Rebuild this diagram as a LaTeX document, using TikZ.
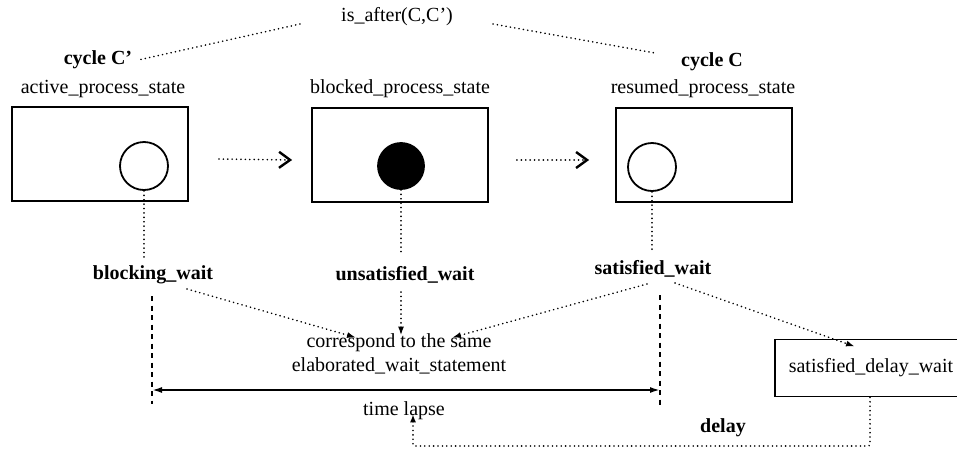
\documentclass[tikz,border=0pt]{standalone}
\usepackage{fontspec}
\setmainfont{Liberation Serif}
\usetikzlibrary{arrows.meta}
\begin{document}
\begin{tikzpicture}[x=1pt,y=-1pt,
  every node/.style={font=\fontsize{20}{23}\selectfont, inner sep=0pt},
  boldlbl/.style={font=\fontsize{20}{23}\selectfont\bfseries},
  statebox/.style={draw, line width=1.8pt, minimum width=176pt, minimum height=94pt},
  ring/.style={circle, draw, line width=1.8pt, minimum size=48pt},
  dotline/.style={line width=1.7pt, line cap=round, dash pattern=on 0.1pt off 4.3pt},
  dashline/.style={line width=1.6pt, dash pattern=on 5pt off 4.5pt},
  flow/.style={dotline, -{Straight Barb[length=11pt,width=16pt,line width=2.4pt]}},
  link/.style={dotline, -{Latex[length=9pt,width=6pt]}},
  span/.style={line width=1.8pt, {Latex[length=10pt,width=6pt]}-{Latex[length=10pt,width=6pt]}}
]
\path[use as bounding box] (0,0) rectangle (957,450);

% cycle relation at the top
\node (isafter) at (397,17) {is\_after(C,C')};
\node[boldlbl] (cycA) at (98,60) {cycle C'};
\node[boldlbl] (cycR) at (712,62) {cycle C};
\coordinate (isL) at (300,24);
\coordinate (isR) at (493,24);
\coordinate (cycRtop) at (655,53);
\draw[dotline] (isL) -- ([xshift=6pt]cycA.east);
\draw[dotline] (isR) -- (cycRtop);

% process states
\node (lblA) at (103,89) {active\_process\_state};
\node (lblB) at (400,89) {blocked\_process\_state};
\node (lblR) at (703,89) {resumed\_process\_state};

\node[statebox] (boxA) at (100,154) {};
\node[statebox] (boxB) at (400,155) {};
\node[statebox] (boxR) at (704,155) {};

\node[ring] (circA) at (144,166) {};
\node[ring, fill=black, minimum size=46pt] (circB) at (401,166) {};
\node[ring] (circR) at (652,167) {};

\draw[flow] ([xshift=30pt,yshift=-5pt]boxA.east) -- ([xshift=-19pt,yshift=-5pt]boxB.west);
\draw[flow] ([xshift=28pt,yshift=-5pt]boxB.east) -- ([xshift=-26pt,yshift=-5pt]boxR.west);

% wait kinds
\node[boldlbl] (wA) at (153,275) {blocking\_wait};
\node[boldlbl] (wB) at (405,275) {unsatisfied\_wait};
\node[boldlbl] (wS) at (653,269) {satisfied\_wait};

\draw[dotline] (circA.south) -- (circA.south |- 0,257);
\draw[dotline] (circB.south) -- (circB.south |- 0,254);
\draw[dotline] (circR.south) -- (circR.south |- 0,253);

\node[align=center] (corr) at (399,354) {correspond to the same\\[1pt]elaborated\_wait\_statement};

\draw[link] (187,289) -- ([xshift=-43pt,yshift=-4pt]corr.north);
\draw[link] (401,292) -- ([xshift=2pt,yshift=-2pt]corr.north);
\draw[link] (647,284) -- ([xshift=53pt,yshift=-4pt]corr.north);

% delay wait
\node[draw, line width=1.8pt, minimum width=190pt, minimum height=57pt] (sdw) at (870,368) {\hspace*{2pt}satisfied\_delay\_wait};
\draw[link] (675,283) -- ([xshift=-15pt,yshift=-8pt]sdw.north);

% time lapse
\coordinate (tL1) at (152,296);
\coordinate (tL2) at (152,404);
\coordinate (tR1) at (660,295);
\coordinate (tR2) at (660,405);
\draw[dashline] (tL1) -- (tL2);
\draw[dashline] (tR1) -- (tR2);
\draw[span] (tL1 |- 0,390) -- (tR1 |- 0,390);
\node (tl) at (404,411) {time lapse};

\node[boldlbl] (dly) at (723,428) {delay};
\coordinate (dlyfoot) at (413,446);
\draw[dotline, -{Latex[length=8pt,width=6pt]}, rounded corners=2pt] (sdw.south) |- (dlyfoot) -- ([xshift=9pt,yshift=6pt]tl.south);
\end{tikzpicture}
\end{document}
